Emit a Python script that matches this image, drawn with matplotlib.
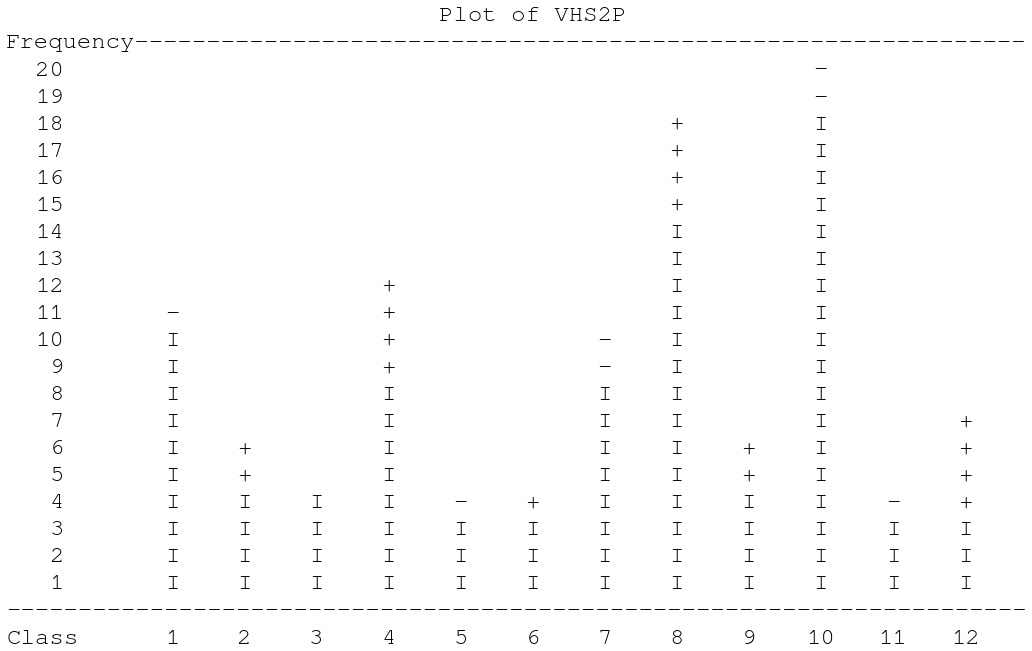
import matplotlib
matplotlib.use("Agg")
import matplotlib.pyplot as plt

# DATA
#===========================================================================
title = "Plot of VHS2P"
classes = [1, 2, 3, 4, 5, 6, 7, 8, 9, 10, 11, 12]
base_counts = [10, 4, 4, 8, 3, 3, 8, 14, 4, 18, 3, 3]     # drawn with 'I'
extra_counts = [1, 2, 0, 4, 1, 1, 2, 4, 2, 2, 1, 4]       # drawn on top
extra_symbols = ['-', '+', '', '+', '-', '+', '-', '+', '+', '-', '-', '+']
freq_ticks = list(range(1, 21))

# LAYOUT (listing grid: x in character columns, y in frequency rows)
#===========================================================================
W, H = 1032, 651
char_w = 14.42          # px per column
row_h = 27.05           # px per row
x0 = 6.2                # px of column 0
base20 = 75.5           # px baseline of row 20
line_len = 71
first_col = 11
col_step = 5

mono = ['Courier New', 'Courier', 'Nimbus Mono PS', 'FreeMono', 'Liberation Mono']
font = dict(family=mono, fontsize=char_w / 0.6 * 0.72, color="black")

fig = plt.figure(figsize=(W / 100, H / 100), dpi=100)
ax = fig.add_axes([0, 0, 1, 1])
ax.set_xlim(-x0 / char_w, (W - x0) / char_w)
ax.set_ylim(20 - (H - base20) / row_h, 20 + base20 / row_h)
ax.axis('off')


def class_x(c):
    return first_col + col_step * (c - 1) + 0.5


# header
ax.text(30, 22, title, ha='left', va='baseline', **font)
ax.text(0, 21, "Frequency".ljust(line_len, '-'), ha='left', va='baseline', **font)

# frequency labels
for f in freq_ticks:
    ax.text(4, f, str(f), ha='right', va='baseline', **font)

# columns
for c, n, m, s in zip(classes, base_counts, extra_counts, extra_symbols):
    for f in range(1, n + 1):
        ax.text(class_x(c), f, 'I', ha='center', va='baseline', **font)
    for f in range(n + 1, n + m + 1):
        ax.text(class_x(c), f, s, ha='center', va='baseline', **font)

# bottom axis
ax.text(0, 0, '-' * line_len, ha='left', va='baseline', **font)
ax.text(0, -1, "Class", ha='left', va='baseline', **font)
for c in classes:
    ax.text(class_x(c), -1, str(c), ha='center', va='baseline', **font)

fig.savefig("out.png", dpi=100, facecolor="white")
